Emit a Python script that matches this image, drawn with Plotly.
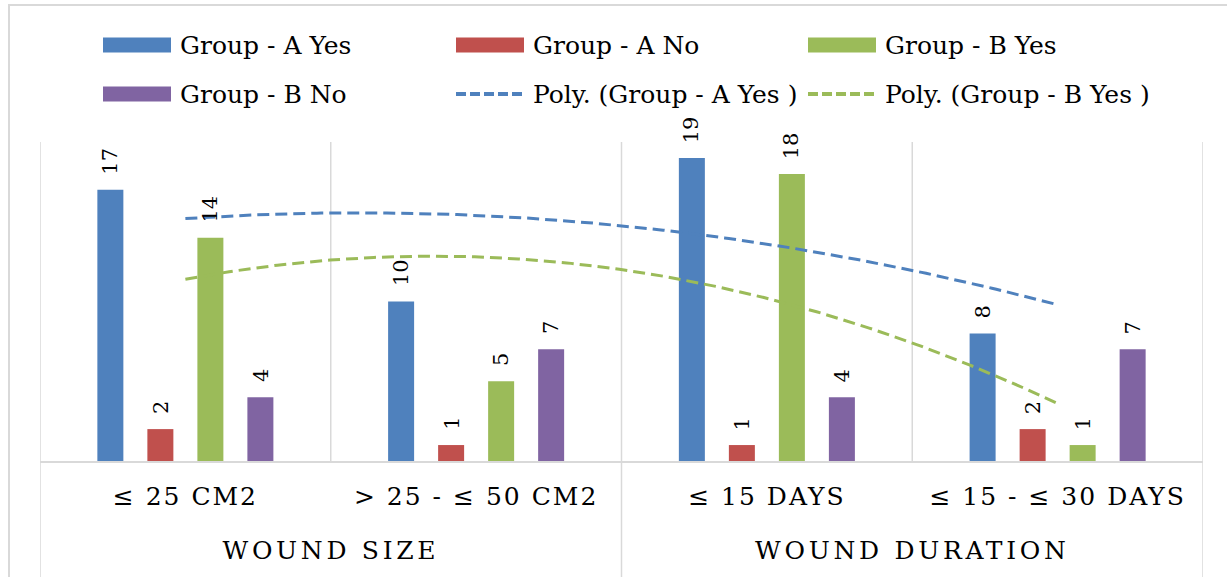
import json
import numpy as np
import plotly.graph_objects as go

# ---------------- data ----------------
categories = ["≤ 25 CM2", "> 25 - ≤ 50 CM2", "≤ 15 DAYS", "≤ 15 - ≤ 30 DAYS"]
group_labels = ["WOUND SIZE", "WOUND DURATION"]
group_a_yes = [17, 10, 19, 8]
group_a_no = [2, 1, 1, 2]
group_b_yes = [14, 5, 18, 1]
group_b_no = [4, 7, 4, 7]
series_names = ["Group - A Yes", "Group - A No", "Group - B Yes", "Group - B No"]
trend_names = ["Poly. (Group - A Yes )", "Poly. (Group - B Yes )"]

# ---------------- style ----------------
W, H = 1227, 577
L, R, T, B = 40, 24, 142, 116
PW, PH = W - L - R, H - T - B
colors = ["#4F81BD", "#C0504D", "#9BBB59", "#8064A2"]
GRID = "#D9D9D9"
FONT = "DejaVu Serif"
bar_w = 0.0894
step = 0.172
offsets = [-1.5 * step, -0.5 * step, 0.5 * step, 1.5 * step]


def pxx(p):
    return (p - L) / PW


def pxy(p):
    return (H - B - p) / PH


xs = list(range(len(categories)))
series = [group_a_yes, group_a_no, group_b_yes, group_b_no]

fig = go.Figure()
for k, (vals, name) in enumerate(zip(series, series_names)):
    fig.add_trace(go.Bar(
        x=xs, y=vals, name=name, width=bar_w, offset=offsets[k] - bar_w / 2,
        marker=dict(color=colors[k], line=dict(width=0)), showlegend=False,
    ))

# polynomial (order 2) trendlines, as Excel computes them
xf = np.linspace(0, len(categories) - 1, 200)
for vals, name, col in [(group_a_yes, trend_names[0], colors[0]), (group_b_yes, trend_names[1], colors[2])]:
    c = np.polyfit(xs, vals, 2)
    fig.add_trace(go.Scatter(
        x=xf, y=np.polyval(c, xf), mode="lines", name=name,
        line=dict(color=col, width=3, dash="12px,6px"), showlegend=False, hoverinfo="skip",
    ))

annotations = []
# value labels (rotated)
for k, vals in enumerate(series):
    for i, v in enumerate(vals):
        annotations.append(dict(
            x=i + offsets[k], y=v, xref="x", yref="y", text=str(v), showarrow=False,
            textangle=-90, xanchor="center", yanchor="bottom", yshift=13,
            font=dict(family=FONT, size=21, color="#000000"),
        ))
# outer category level
for j, g in enumerate(group_labels):
    annotations.append(dict(
        x=2 * j + 0.5, y=pxy(550), xref="x", yref="paper", text=g, showarrow=False,
        xanchor="center", yanchor="middle", font=dict(family=FONT, size=25, color="#000000"),
    ))

shapes = []
# chart-area frame
shapes.append(dict(type="rect", xref="paper", yref="paper", x0=pxx(9), x1=pxx(1260), y0=pxy(610), y1=pxy(5),
                   line=dict(color=GRID, width=2), fillcolor="rgba(0,0,0,0)", layer="below"))
# category gridlines / dividers
for b in [-0.5, 0.5, 1.5, 2.5, 3.5]:
    long = b in (-0.5, 1.5, 3.5)
    shapes.append(dict(type="line", xref="x", yref="paper", x0=b, x1=b, y0=pxy(H + 5) if long else 0, y1=1,
                       line=dict(color=GRID, width=1.5), layer="below"))

# legend (drawn to match the wide Excel-style swatches)
legend_items = [
    (series_names[0], colors[0], "bar"), (series_names[1], colors[1], "bar"), (series_names[2], colors[2], "bar"),
    (series_names[3], colors[3], "bar"), (trend_names[0], colors[0], "line"), (trend_names[1], colors[2], "line"),
]
col_x = [103, 456, 808]
row_y = [45, 94]
for idx, (name, col, kind) in enumerate(legend_items):
    sx = col_x[idx % 3]
    cy = row_y[idx // 3]
    if kind == "bar":
        shapes.append(dict(type="rect", xref="paper", yref="paper", x0=pxx(sx), x1=pxx(sx + 68),
                           y0=pxy(cy + 7.5), y1=pxy(cy - 7.5), fillcolor=col, line=dict(width=0)))
    else:
        shapes.append(dict(type="line", xref="paper", yref="paper", x0=pxx(sx), x1=pxx(sx + 68),
                           y0=pxy(cy), y1=pxy(cy), line=dict(color=col, width=4, dash="10px,4px")))
    annotations.append(dict(x=pxx(sx + 75), y=pxy(cy), xref="paper", yref="paper", text=name, showarrow=False,
                            xanchor="left", yanchor="middle", font=dict(family=FONT, size=25, color="#000000")))

fig.update_layout(
    width=W, height=H, margin=dict(l=L, r=R, t=T, b=B),
    paper_bgcolor="white", plot_bgcolor="white", barmode="overlay",
    showlegend=False, shapes=shapes, annotations=annotations,
    font=dict(family=FONT),
    xaxis=dict(range=[-0.5, 3.5], tickvals=xs, ticktext=categories, showgrid=False, zeroline=False,
               showline=True, linecolor=GRID, linewidth=1.5, ticks="", ticklabelstandoff=12,
               tickfont=dict(family=FONT, size=25, color="#000000"), fixedrange=True),
    yaxis=dict(range=[0, 20], visible=False, showgrid=False, zeroline=False, fixedrange=True),
)

post = """
document.body.style.margin = '0';
var gd = document.getElementById('{plot_id}');
var groups = %s;
gd.querySelectorAll('.xtick text').forEach(function(t){ t.setAttribute('letter-spacing', '2px'); });
gd.querySelectorAll('.annotation-text').forEach(function(t){
  if (groups.indexOf(t.textContent) >= 0) { t.setAttribute('letter-spacing', '3.7px'); }
});
""" % json.dumps(group_labels)

fig.write_html("out.html", post_script=post, config={"displayModeBar": False})
